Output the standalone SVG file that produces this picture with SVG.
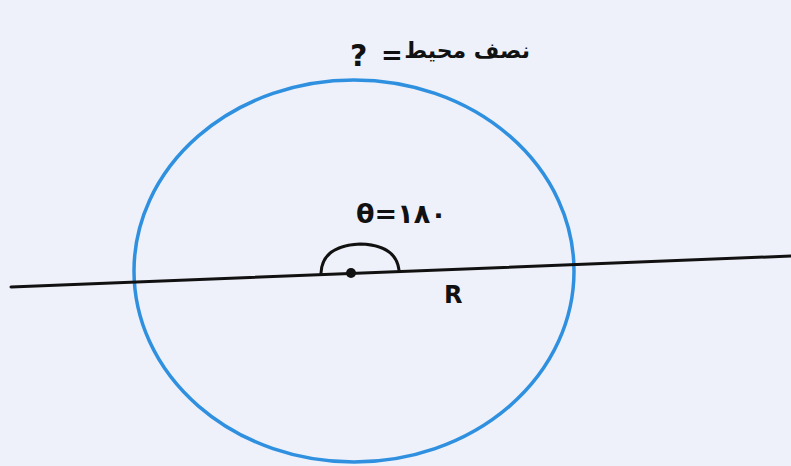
<svg xmlns="http://www.w3.org/2000/svg" width="791" height="466" viewBox="0 0 791 466">
<style>
.ink{fill:none;stroke:#111;stroke-width:3;stroke-linecap:round}
.t{font-family:"DejaVu Sans","Liberation Sans",sans-serif;fill:#111;font-weight:bold}
</style>
<rect width="791" height="466" fill="#eef1f9"/>
<g id="circle">
<ellipse cx="354" cy="271" rx="220" ry="191" fill="none" stroke="#3090e0" stroke-width="3.5"/>
</g>
<g id="connectors">
<line class="ink" x1="11" y1="287" x2="791" y2="256"/>
<path class="ink" d="M321 273 Q322 246 360 244 Q396 245 399 270"/>
</g>
<g id="center">
<circle cx="351" cy="273" r="5" fill="#111"/>
</g>
<g id="labels">
<text class="t" x="444" y="303" font-size="24">R</text>
<text class="t" x="356" y="223" font-size="27">θ=۱۸۰</text>
<text class="t" x="350" y="66" font-size="30">?</text>
<text class="t" x="381" y="64" font-size="26">=</text>
<text class="t" x="530" y="58" font-size="22" direction="rtl" text-anchor="start">نصف محیط</text>
</g>
</svg>
